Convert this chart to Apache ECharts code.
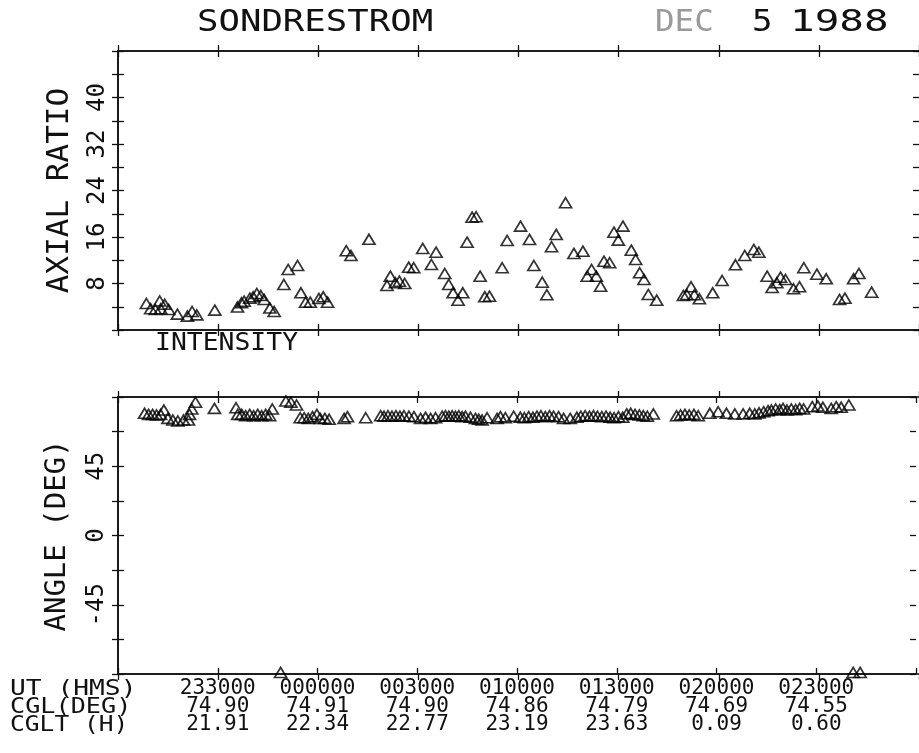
<!DOCTYPE html>
<html><head><meta charset="utf-8">
<script src="https://cdn.jsdelivr.net/npm/echarts@6/dist/echarts.min.js"></script>
<style>html,body{margin:0;padding:0;background:#fff}#c{width:919px;height:753px}</style>
</head><body><div id="c"></div>
<script>
// time in minutes after 23:00 UT
const ratioTime = [8.5,9.8,11.2,12.5,12.8,14.0,15.2,17.8,20.8,22.2,23.6,29.0,35.8,37.0,37.8,39.5,40.5,41.6,42.8,43.8,45.5,46.8,49.7,51.0,53.8,54.8,56.2,57.6,60.2,61.5,62.8,68.4,69.8,75.2,80.6,81.6,83.1,84.3,85.9,87.1,88.6,91.3,93.9,95.3,97.9,99.1,100.4,101.9,103.3,104.6,106.1,107.3,108.5,109.9,111.3,115.1,116.6,120.6,123.3,124.6,127.1,128.5,129.9,131.3,134.1,136.6,139.3,140.6,141.9,143.3,144.6,145.6,147.3,148.6,149.9,151.3,153.8,155.1,156.3,157.6,158.9,161.4,169.4,170.4,171.7,172.7,174.2,178.2,181.0,185.0,187.8,190.5,192.0,194.5,196.0,197.4,198.5,200.0,202.4,204.2,205.5,209.4,212.2,216.2,217.8,220.4,222.0,225.8];
const ratioValue = [4.56,3.66,3.53,4.99,3.66,4.42,3.53,2.73,2.39,3.18,2.6,3.42,3.94,4.68,4.96,5.47,5.71,6.28,5.94,5.25,3.78,3.18,7.83,10.41,11.1,6.4,4.79,4.79,5.42,5.71,4.79,13.63,12.82,15.6,7.66,9.26,8.12,8.4,8.0,10.81,10.71,14.03,11.27,13.39,9.72,7.83,6.4,5.13,6.4,15.11,19.41,19.48,9.26,5.71,5.82,10.71,15.4,17.87,15.58,11.1,8.23,6.06,14.32,16.44,21.89,13.17,13.56,9.26,10.41,9.26,7.54,11.84,11.57,16.83,15.46,17.87,13.73,12.13,9.85,8.69,6.11,5.13,5.94,6.11,7.44,6.06,5.37,6.4,8.52,11.22,12.82,13.86,13.39,9.26,7.31,8.12,9.09,8.69,7.09,7.44,10.71,9.6,8.81,5.25,5.47,8.81,9.72,6.51];
const angleTime = [8.0,9.2,10.4,11.6,12.8,13.8,15.0,16.5,18.0,19.7,21.2,21.5,22.2,23.3,29.0,35.5,36.0,37.2,38.4,39.6,40.8,42.0,43.2,44.4,45.6,46.4,48.9,50.5,52.0,53.7,54.8,56.0,57.2,58.5,59.8,60.8,62.2,63.5,68.0,69.0,74.5,79.0,80.0,81.2,82.4,83.6,84.8,86.0,87.5,89.0,91.0,92.5,94.0,95.5,97.5,98.5,99.5,100.5,101.5,102.5,103.5,104.5,106.0,107.5,108.5,109.5,111.0,114.0,115.0,116.5,119.0,121.0,122.2,123.5,124.8,126.0,127.2,128.5,129.8,131.0,132.5,134.0,136.0,138.0,139.2,140.5,141.8,143.0,144.2,145.5,146.8,148.0,149.2,150.5,151.8,153.0,154.2,155.5,156.8,158.0,159.2,161.0,168.0,169.2,170.5,171.8,173.2,174.5,178.0,180.5,183.0,185.5,188.0,190.0,191.5,192.8,194.2,195.5,196.5,197.8,199.0,200.0,201.2,202.5,203.8,205.0,206.2,208.8,210.5,212.0,214.5,216.0,217.5,219.8,221.1,223.2];
const angleValue = [79.4,78.7,78.7,78.3,78.7,81.5,76.1,75.0,74.4,75.0,75.0,78.7,82.2,86.6,82.6,83.0,78.7,78.7,77.8,78.7,77.8,78.7,77.8,78.7,77.8,82.2,-89,87.4,86.6,84.8,76.5,76.5,76.1,77.2,78.7,76.1,76.1,75.5,76.1,77.2,76.5,77.8,77.5,77.8,77.5,77.8,77.5,77.8,77.5,77.2,76.1,76.8,76.1,76.5,77.5,77.8,77.5,77.8,77.5,77.8,77.2,77.5,76.8,76.1,75.5,75.0,76.5,76.1,77.2,76.5,77.5,76.8,76.5,77.2,76.8,77.5,77.8,77.2,77.8,77.5,77.2,76.1,76.1,76.8,77.5,77.8,77.5,77.8,77.5,77.2,77.5,76.8,76.5,77.2,76.8,79.0,79.4,78.7,78.3,77.8,77.5,79.0,77.8,78.3,78.7,78.3,78.7,77.8,79.4,80.4,79.4,79.0,79.0,79.4,79.0,79.7,80.4,81.1,81.5,82.2,81.8,82.6,81.5,82.2,81.8,82.6,82.2,83.7,84.1,83.3,82.6,83.7,83.3,84.8,-89,-89];
// tick labels at 30-minute ticks (index 1..7)
const utLabels = ['', '233000', '000000', '003000', '010000', '013000', '020000', '023000', ''];
const cglLabels = ['', '74.90', '74.91', '74.90', '74.86', '74.79', '74.69', '74.55', ''];
const ccltLabels = ['', '21.91', '22.34', '22.77', '23.19', '23.63', '0.09', '0.60', ''];
const ratioTickLabels = [8, 16, 24, 32, 40];
const angleTickLabels = [45, 0, -45];

const INK = '#111';
const MONO = '"DejaVu Sans Mono", monospace';
const pair = (xs, ys) => xs.map((x, i) => [x, ys[i]]);

function xAx(grid, pos, inside, extra) {
  return Object.assign({
    type: 'value', gridIndex: grid, position: pos, min: 0, max: 240, interval: 30,
    axisLine: { show: true, onZero: false, lineStyle: { color: INK, width: 1.6 } },
    axisTick: { show: true, inside: inside, length: 6, lineStyle: { color: INK, width: 1.3 } },
    axisLabel: { show: false }, splitLine: { show: false }
  }, extra || {});
}
function yAx(grid, pos, inside, min, max, interval, extra) {
  return Object.assign({
    type: 'value', gridIndex: grid, position: pos, min: min, max: max, interval: interval,
    axisLine: { show: pos === 'left', onZero: false, lineStyle: { color: INK, width: 1.6 } },
    axisTick: { show: true, inside: inside, length: 6, lineStyle: { color: INK, width: 1.3 } },
    axisLabel: { show: false }, splitLine: { show: false }
  }, extra || {});
}

const topRect = { left: 118, top: 51, width: 801, height: 279 };
const botRect = { left: 118, top: 397, width: 801, height: 277 };

const chart = echarts.init(document.getElementById('c'), null, { renderer: 'canvas' });
const symStyle = { color: 'rgba(255,255,255,0)', borderColor: '#000', borderWidth: 1.7 };

chart.setOption({
  backgroundColor: '#fff',
  animation: false,
  grid: [
    Object.assign({}, topRect), Object.assign({}, topRect),
    Object.assign({}, botRect), Object.assign({}, botRect)
  ],
  xAxis: [
    xAx(0, 'bottom', true), xAx(0, 'top', true),
    xAx(1, 'bottom', false), xAx(1, 'top', false),
    xAx(2, 'bottom', true, {
      axisLabel: {
        show: true, margin: 6, color: INK, fontFamily: MONO, fontSize: 21, lineHeight: 18,
        formatter: v => { const i = Math.round(v / 30); return utLabels[i] ? utLabels[i] + '\n' + cglLabels[i] + '\n' + ccltLabels[i] : ''; }
      }
    }),
    xAx(2, 'top', true),
    xAx(3, 'bottom', false), xAx(3, 'top', false)
  ],
  yAxis: [
    yAx(0, 'left', true, 0, 48, 4, {
      name: 'AXIAL RATIO', nameLocation: 'middle', nameRotate: 90, nameGap: 43,
      nameTextStyle: { color: INK, fontFamily: MONO, fontSize: 31 },
      axisLabel: { show: true, rotate: 90, margin: 8, color: INK, fontFamily: MONO, fontSize: 24,
        formatter: v => ratioTickLabels.includes(v) ? String(v) : '' }
    }),
    yAx(0, 'right', true, 0, 48, 4),
    yAx(1, 'left', false, 0, 48, 4),
    yAx(2, 'left', true, -90, 90, 22.5, {
      name: 'ANGLE (DEG)', nameLocation: 'middle', nameRotate: 90, nameGap: 46,
      nameTextStyle: { color: INK, fontFamily: MONO, fontSize: 29 },
      axisLabel: { show: true, rotate: 90, margin: 9, color: INK, fontFamily: MONO, fontSize: 24,
        formatter: v => angleTickLabels.includes(v) ? String(v) : '' }
    }),
    yAx(2, 'right', true, -90, 90, 22.5),
    yAx(3, 'left', false, -90, 90, 22.5)
  ],
  graphic: [
    { type: 'text', left: 197, top: 7, scaleX: 1.15, style: { text: 'SONDRESTROM', font: '31px ' + MONO, fill: INK } },
    { type: 'text', left: 655, top: 7, scaleX: 1.05, style: { text: 'DEC', font: '31px ' + MONO, fill: '#9a9a9a' } },
    { type: 'text', left: 752, top: 7, scaleX: 1.1, style: { text: '5', font: '31px ' + MONO, fill: INK } },
    { type: 'text', left: 790, top: 7, scaleX: 1.32, style: { text: '1988', font: '31px ' + MONO, fill: INK } },
    { type: 'text', left: 155, top: 332, scaleX: 1.1, style: { text: 'INTENSITY', font: '24px ' + MONO, fill: INK } },
    { type: 'text', left: 10, top: 679, scaleX: 1.25, style: { text: 'UT (HMS)', font: '21px ' + MONO, fill: INK } },
    { type: 'text', left: 10, top: 697, scaleX: 1.2, style: { text: 'CGL(DEG)', font: '21px ' + MONO, fill: INK } },
    { type: 'text', left: 10, top: 715, scaleX: 1.17, style: { text: 'CGLT (H)', font: '21px ' + MONO, fill: INK } }
  ],
  series: [
    { type: 'scatter', xAxisIndex: 0, yAxisIndex: 0, symbol: 'triangle', symbolSize: [12, 10],
      itemStyle: symStyle, emphasis: { disabled: true }, data: pair(ratioTime, ratioValue) },
    { type: 'scatter', xAxisIndex: 4, yAxisIndex: 3, symbol: 'triangle', symbolSize: [12, 10],
      itemStyle: symStyle, emphasis: { disabled: true }, data: pair(angleTime, angleValue) }
  ]
});
</script>
</body></html>
